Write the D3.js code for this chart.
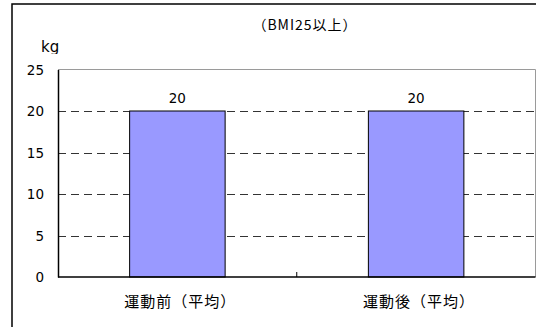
<!DOCTYPE html>
<html>
<head>
<meta charset="utf-8">
<script src="https://cdn.jsdelivr.net/npm/d3@7"></script>
<style>
  html, body { margin: 0; padding: 0; background: #fff; }
  svg { display: block; }
  text { fill: #000; }
  .num { font-family: "DejaVu Sans", sans-serif; }
  .cjk { font-family: "Noto Sans CJK JP", "DejaVu Sans", sans-serif; }
</style>
</head>
<body>
<svg id="chart" width="536" height="327"></svg>
<script>
// Average weight before and after exercise (BMI 25 and over)
const categories = ["運動前（平均）", "運動後（平均）"];
const values = [20, 20];
const yTicks = [0, 5, 10, 15, 20, 25];
const title = "（BMI25以上）";
const unit = "kg";

const svg = d3.select("#chart");
const W = 536, H = 327;
const plot = { left: 58, right: 535.5, top: 69.5, bottom: 277 };

// Outer chart frame (extends past the visible area at right and bottom)
svg.append("rect")
  .attr("x", 12).attr("y", 4)
  .attr("width", W + 20).attr("height", H + 20)
  .attr("fill", "#fff").attr("stroke", "#000").attr("stroke-width", 1.5);

const x = d3.scaleBand()
  .domain(categories)
  .range([plot.left, plot.right])
  .paddingInner(0.6)
  .paddingOuter(0.3);

const xOuter = d3.scaleBand()
  .domain(categories)
  .range([plot.left, plot.right]);

const y = d3.scaleLinear()
  .domain([0, 25])
  .range([plot.bottom, plot.top]);

// Plot area border (top and right in gray)
svg.append("path")
  .attr("d", `M${plot.left},${plot.top}H${plot.right}V${plot.bottom}`)
  .attr("fill", "none").attr("stroke", "#9a9a9a").attr("stroke-width", 1);

// Dashed gridlines
svg.append("g")
  .selectAll("line")
  .data(yTicks.filter(d => d > 0 && d < 25))
  .join("line")
  .attr("x1", plot.left).attr("x2", plot.right)
  .attr("y1", d => Math.round(y(d)) + 0.5).attr("y2", d => Math.round(y(d)) + 0.5)
  .attr("stroke", "#333").attr("stroke-width", 1)
  .attr("stroke-dasharray", "8,5");

// Bars
svg.append("g")
  .selectAll("rect")
  .data(values)
  .join("rect")
  .attr("x", (d, i) => x(categories[i]))
  .attr("y", d => y(d))
  .attr("width", x.bandwidth())
  .attr("height", d => y(0) - y(d))
  .attr("fill", "#9999ff")
  .attr("stroke", "#000").attr("stroke-width", 1);

// Value labels
svg.append("g")
  .selectAll("text")
  .data(values)
  .join("text")
  .attr("class", "num")
  .attr("x", (d, i) => x(categories[i]) + x.bandwidth() / 2)
  .attr("y", d => y(d) - 8)
  .attr("text-anchor", "middle")
  .attr("font-size", 13.5)
  .text(d => d);

// Y axis
const yAxis = d3.axisLeft(y).tickValues(yTicks).tickSize(0).tickPadding(14);
const gy = svg.append("g").attr("transform", `translate(${plot.left},0)`).call(yAxis);
gy.select(".domain").attr("stroke", "#000").attr("stroke-width", 1.5);
gy.selectAll("text").attr("font-size", 13.5).attr("dy", "0.36em")
  .attr("fill", "#000")
  .style("font-family", '"DejaVu Sans", sans-serif');

// X axis with an inward divider tick between the categories
const gx = svg.append("g").attr("transform", `translate(0,${plot.bottom})`);
gx.append("line")
  .attr("x1", plot.left).attr("x2", plot.right)
  .attr("stroke", "#000").attr("stroke-width", 1.5);
gx.selectAll(".divider")
  .data(categories.slice(1))
  .join("line")
  .attr("class", "divider")
  .attr("x1", d => xOuter(d)).attr("x2", d => xOuter(d))
  .attr("y1", 0).attr("y2", -5)
  .attr("stroke", "#000").attr("stroke-width", 1);
gx.selectAll(".cat")
  .data(categories)
  .join("text")
  .attr("class", "cat cjk")
  .attr("x", d => x(d) + x.bandwidth() / 2 + 3)
  .attr("y", 30)
  .attr("text-anchor", "middle")
  .attr("font-size", 15)
  .attr("letter-spacing", 1)
  .text(d => d);

// Unit label, clipped at its bottom like the original layout
svg.append("clipPath").attr("id", "unitClip")
  .append("rect").attr("x", 0).attr("y", 0).attr("width", 120).attr("height", 54);
svg.append("text")
  .attr("class", "num")
  .attr("x", 41).attr("y", 52)
  .attr("font-size", 15)
  .attr("clip-path", "url(#unitClip)")
  .text(unit);

// Title
svg.append("text")
  .attr("class", "cjk")
  .attr("x", 305).attr("y", 29.5)
  .attr("text-anchor", "middle")
  .attr("font-size", 14)
  .attr("letter-spacing", 1)
  .text(title);
</script>
</body>
</html>
